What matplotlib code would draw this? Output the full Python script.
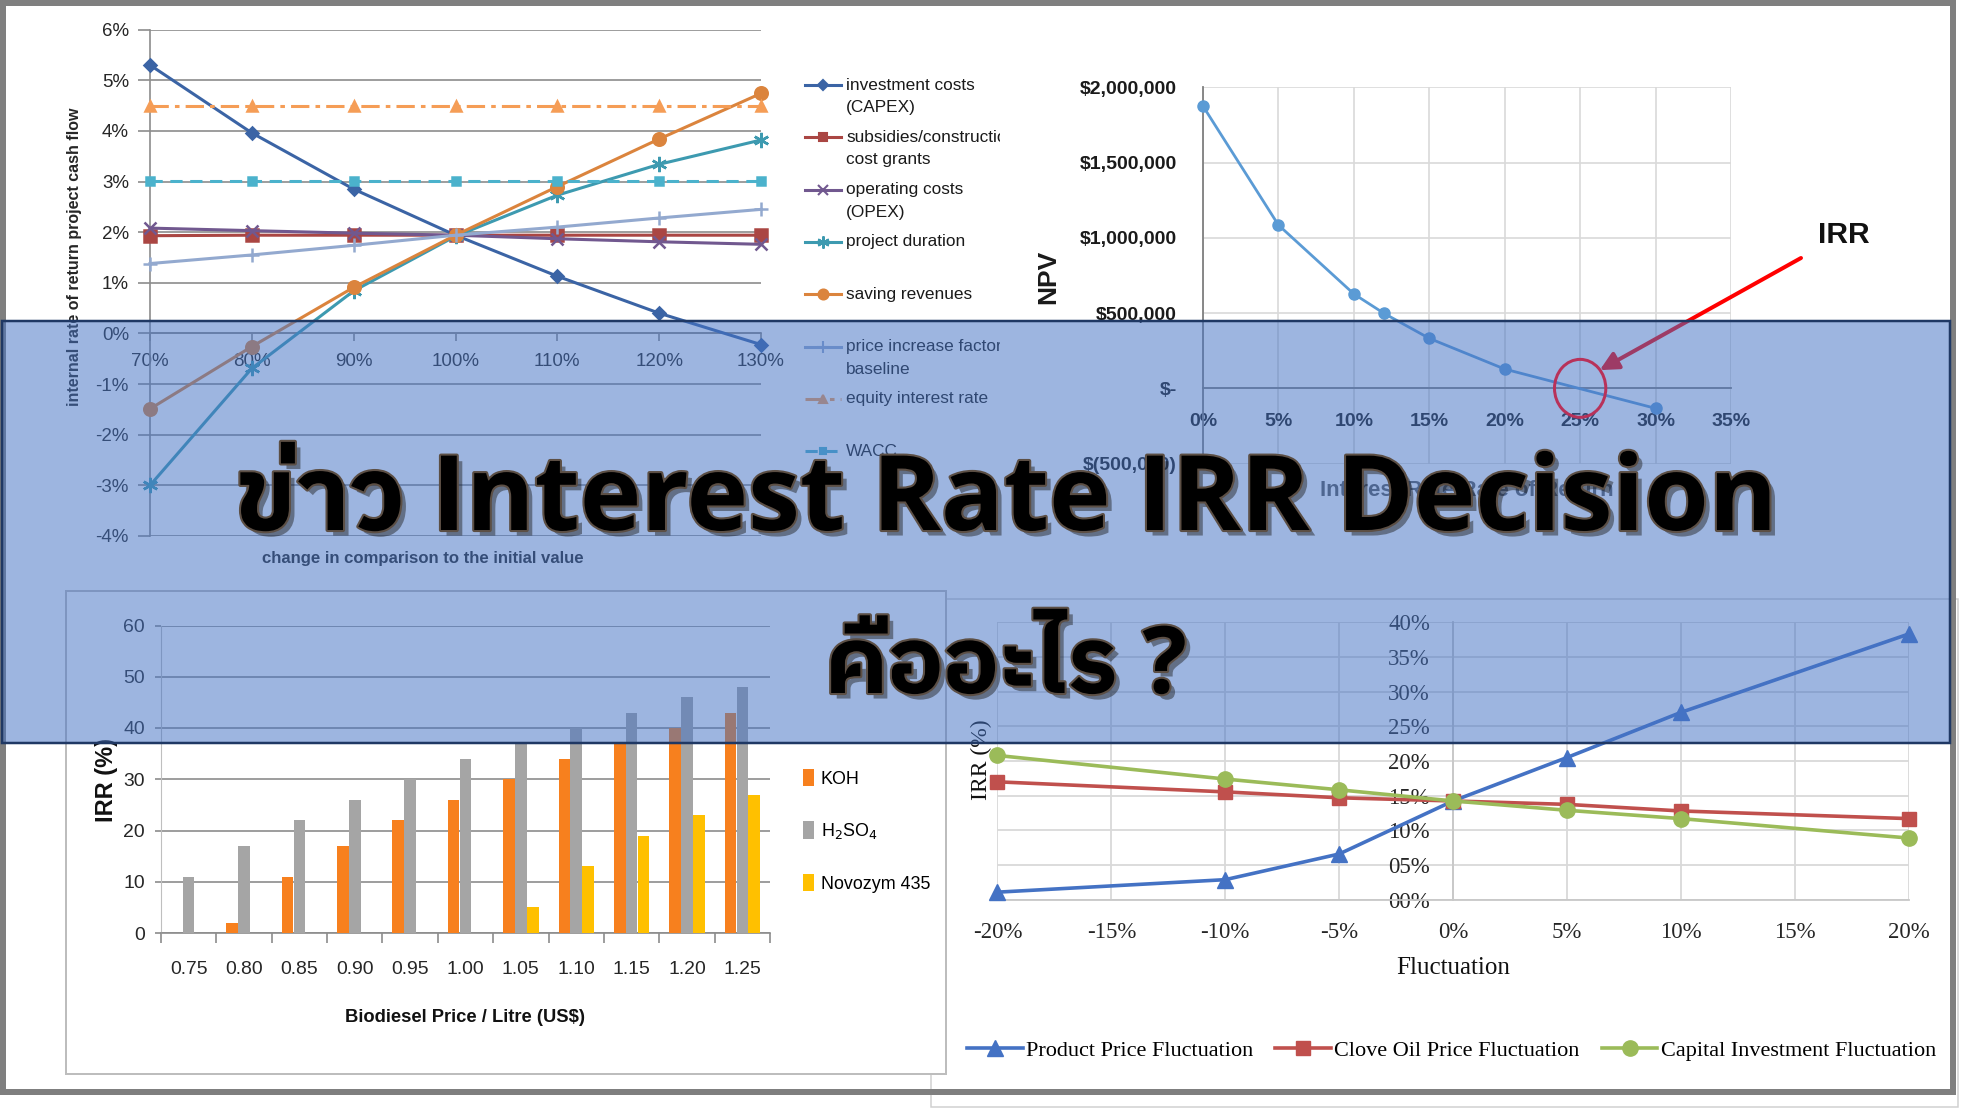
import numpy as np
import matplotlib
matplotlib.use('Agg')
import matplotlib.pyplot as plt
from matplotlib import font_manager, patheffects
from matplotlib.ft2font import FT2Font
from matplotlib.patches import Rectangle, Ellipse

# ---------------- data ----------------
# top left: IRR sensitivity (%)
change = [0.7, 0.8, 0.9, 1.0, 1.1, 1.2, 1.3]
change_labels = ['70%', '80%', '90%', '100%', '110%', '120%', '130%']
capex = [5.30, 3.96, 2.85, 1.94, 1.13, 0.40, -0.22]
subsidies = [1.93, 1.94, 1.94, 1.94, 1.94, 1.94, 1.94]
opex = [2.08, 2.03, 1.98, 1.94, 1.87, 1.81, 1.76]
duration = [-3.00, -0.69, 0.84, 1.92, 2.73, 3.34, 3.82]
revenues = [-1.49, -0.26, 0.91, 1.94, 2.90, 3.84, 4.74]
price_factor = [1.38, 1.55, 1.74, 1.94, 2.10, 2.28, 2.45]
equity_rate = [4.50, 4.50, 4.50, 4.50, 4.50, 4.50, 4.50]
wacc = [3.02, 3.02, 3.02, 3.02, 3.02, 3.02, 3.02]
irr_ticks = [-4, -3, -2, -1, 0, 1, 2, 3, 4, 5, 6]

# top right: NPV profile
rate = [0.00, 0.05, 0.10, 0.12, 0.15, 0.20, 0.30]
npv = [1875000, 1085000, 627000, 498000, 332000, 128000, -133000]
rate_ticks = [0.0, 0.05, 0.10, 0.15, 0.20, 0.25, 0.30, 0.35]
rate_labels = ['0%', '5%', '10%', '15%', '20%', '25%', '30%', '35%']
npv_ticks = [-500000, 0, 500000, 1000000, 1500000, 2000000]
irr_point = (0.25, 0)

# bottom left: IRR vs biodiesel price
price = ['0.75', '0.80', '0.85', '0.90', '0.95', '1.00', '1.05', '1.10', '1.15', '1.20', '1.25']
koh = [0, 2, 11, 17, 22, 26, 30, 34, 37, 40, 43]
h2so4 = [11, 17, 22, 26, 30, 34, 37, 40, 43, 46, 48]
novozym = [0, 0, 0, 0, 0, 0, 5, 13, 19, 23, 27]
bar_ticks = [0, 10, 20, 30, 40, 50, 60]

# bottom right: IRR vs fluctuation
fluct = [-0.20, -0.10, -0.05, 0.00, 0.05, 0.10, 0.20]
product = [0.011, 0.029, 0.066, 0.1424, 0.205, 0.270, 0.383]
clove = [0.170, 0.1555, 0.147, 0.1424, 0.1375, 0.128, 0.117]
capital = [0.208, 0.174, 0.1585, 0.1424, 0.129, 0.117, 0.089]
fluct_ticks = [-0.20, -0.15, -0.10, -0.05, 0.0, 0.05, 0.10, 0.15, 0.20]
fluct_labels = ['-20%', '-15%', '-10%', '-5%', '0%', '5%', '10%', '15%', '20%']
pct_ticks = [0.0, 0.05, 0.10, 0.15, 0.20, 0.25, 0.30, 0.35, 0.40]
pct_labels = ['00%', '05%', '10%', '15%', '20%', '25%', '30%', '35%', '40%']

# ---------------- fonts ----------------
names = {f.name for f in font_manager.fontManager.ttflist}
NARROW = 'Liberation Sans Narrow' in names


def narrow(size, **kw):
    if NARROW:
        return dict(family='Liberation Sans Narrow', size=size, **kw)
    return dict(family='Liberation Sans', size=size * 0.9, **kw)


def has_glyph(path, ch):
    try:
        return ord(ch) in FT2Font(path).get_charmap()
    except Exception:
        return False


thai = [f for f in font_manager.fontManager.ttflist if has_glyph(f.fname, 'ข')]
thai = sorted(thai, key=lambda f: 0 if 'Sans' in f.name else 1)
THAI = thai[0].name if thai else None
title_family = ['Open Sans'] + ([THAI] if THAI else []) + ['DejaVu Sans']

# ---------------- figure ----------------
W, H = 1962, 1109
PT = 0.72
fig = plt.figure(figsize=(W / 100, H / 100), dpi=100)
fig.patch.set_facecolor('white')


def px_axes(l, t, r, b):
    return fig.add_axes([l / W, 1 - b / H, (r - l) / W, (b - t) / H])


def fxy(x, y):
    return (x / W, 1 - y / H)


# panel boxes
fig.add_artist(Rectangle(fxy(931, 1107), 1027 / W, 508 / H, transform=fig.transFigure,
                         facecolor='white', edgecolor='#D0D0D0', lw=1.5 * PT, zorder=-2))
fig.add_artist(Rectangle(fxy(66, 1074), 880 / W, 483 / H, transform=fig.transFigure,
                         facecolor='white', edgecolor='#BDBDBD', lw=2 * PT, zorder=-1))

# ---------- top left ----------
ax1 = px_axes(150, 29.6, 761, 536)
ax1.set_facecolor('none')
for s in ['top', 'right']:
    ax1.spines[s].set_visible(False)
ax1.spines['bottom'].set_position(('data', 0))
series1 = [
    ('investment costs\n(CAPEX)', capex, '#3B64A5', 'D', 6, '-'),
    ('subsidies/construction\ncost grants', subsidies, '#AA4643', 's', 8, '-'),
    ('operating costs\n(OPEX)', opex, '#71588F', 'x', 9, '-'),
    ('project duration', duration, '#3D9AB0', (6, 2, 0), 11, '-'),
    ('saving revenues', revenues, '#DB843D', 'o', 9, '-'),
    ('price increase factor\nbaseline', price_factor, '#93A9CF', '+', 10, '-'),
    ('equity interest rate', equity_rate, '#F59D56', '^', 7, (0, (6, 2, 1.5, 2))),
    ('WACC', wacc, '#4BB2CC', 's', 6, (0, (4, 2.5))),
]
for lab, vals, col, mk, ms, ls in series1:
    ax1.plot(change, vals, color=col, marker=mk, ms=ms, lw=2.2, ls=ls, mew=1.8,
             clip_on=False, zorder=3)
ax1.set_xlim(0.7, 1.3)
ax1.set_ylim(-4, 6)
ax1.set_yticks(irr_ticks, [f'{v}%' for v in irr_ticks], family='Liberation Sans',
               fontsize=13.5, color='#262626')
ax1.set_xticks(change, change_labels, family='Liberation Sans', fontsize=13.5, color='#262626')
ax1.grid(axis='y', color='#8C8C8C', lw=1.2)
ax1.set_axisbelow(True)
for s in ['bottom', 'left']:
    ax1.spines[s].set_color('#8C8C8C')
    ax1.spines[s].set_linewidth(1.2)
ax1.tick_params(axis='y', length=12 * PT, width=1.2, color='#8C8C8C', pad=9 * PT)
ax1.tick_params(axis='x', length=8 * PT, width=1.2, color='#8C8C8C', pad=12 * PT)
fig.text(*fxy(75, 257), 'internal rate of return project cash flow', rotation=90,
         ha='center', va='center', family='Liberation Sans', fontsize=11.5,
         fontweight='bold', color='#262626')
fig.text(*fxy(423, 558), 'change in comparison to the initial value', ha='center', va='center',
         color='#262626', **narrow(13.4, weight='bold'))

# legend of top left chart
lax = px_axes(800, 60, 1000, 480)
lax.set_xlim(800, 1000)
lax.set_ylim(480, 60)
lax.axis('off')
for i, (lab, vals, col, mk, ms, ls) in enumerate(series1):
    y = 85 + i * 52.3
    lax.plot([805, 841], [y, y], color=col, lw=2.2, ls=ls)
    lax.plot([823], [y], color=col, marker=mk, ms=ms * 0.8, mew=1.5)
    for j, line in enumerate(lab.split('\n')):
        lax.text(846, y + j * 22.5, line, va='center', ha='left', color='#1a1a1a',
                 clip_on=True, family='Liberation Sans', size=12.4)

# ---------- top right ----------
ax2 = px_axes(1203, 87.3, 1731, 463.6)
ax2.set_facecolor('none')
for s in ['top', 'right']:
    ax2.spines[s].set_visible(False)
ax2.spines['bottom'].set_position(('data', 0))
ax2.plot(rate, npv, color='#5B9BD5', lw=2, marker='o', ms=8, clip_on=False, zorder=3)
ax2.set_xlim(0, 0.35)
ax2.set_ylim(-500000, 2000000)


def money(v):
    if v == 0:
        return '$-'
    if v < 0:
        return '$({:,.0f})'.format(-v)
    return '${:,.0f}'.format(v)


ax2.set_xticks(rate_ticks, rate_labels, family='Liberation Sans', fontsize=14,
               fontweight='bold', color='#1a1a1a')
ax2.set_yticks(npv_ticks, [money(v) for v in npv_ticks], family='Liberation Sans',
               fontsize=14, fontweight='bold', color='#1a1a1a')
ax2.grid(True, color='#D9D9D9', lw=1.2)
ax2.set_axisbelow(True)
for s in ['bottom', 'left']:
    ax2.spines[s].set_color('#7F7F7F')
    ax2.spines[s].set_linewidth(1.3)
ax2.tick_params(axis='x', length=0, pad=25 * PT)
ax2.tick_params(axis='y', length=0, pad=26 * PT)
fig.text(*fxy(1048, 277), 'NPV', rotation=90, ha='center', va='center',
         family='Liberation Sans', fontsize=19, fontweight='bold', color='#1a1a1a')
fig.text(*fxy(1467, 490), 'Interest Rate/Rate of Return', ha='center', va='center',
         family='Liberation Sans', fontsize=16, fontweight='bold', color='#595959')
ax2.annotate('', xy=(0.263, 121000), xytext=fxy(1801, 258), textcoords='figure fraction',
             arrowprops=dict(arrowstyle='-|>,head_length=1.1,head_width=0.55', color='red',
                             lw=4 * PT, shrinkA=0, shrinkB=0), zorder=4)
fig.text(*fxy(1844, 235), 'IRR', ha='center', va='center', color='#111111',
         **narrow(24, weight='bold'))

# ---------- bottom left ----------
ax3 = px_axes(161, 625.5, 770, 933)
ax3.set_facecolor('none')
x = np.arange(len(price))
b1 = ax3.bar(x - 0.215, koh, 0.21, color='#F7801E', zorder=3)
b2 = ax3.bar(x, h2so4, 0.21, color='#A5A5A5', zorder=3)
b3 = ax3.bar(x + 0.215, novozym, 0.21, color='#FFC000', zorder=3)
ax3.set_xlim(-0.5, len(price) - 0.5)
ax3.set_ylim(0, 60)
tick_font = narrow(15.5)
ax3.set_xticks(x, price, color='#262626', fontfamily=tick_font['family'],
               fontsize=tick_font['size'])
ax3.set_xticks(np.arange(len(price) + 1) - 0.5, minor=True)
ax3.set_yticks(bar_ticks, [str(v) for v in bar_ticks], color='#262626',
               fontfamily=tick_font['family'], fontsize=tick_font['size'])
ax3.grid(axis='y', color='#8C8C8C', lw=1.2)
ax3.set_axisbelow(True)
for s in ['top', 'right']:
    ax3.spines[s].set_visible(False)
ax3.spines['bottom'].set_color('#8C8C8C')
ax3.spines['bottom'].set_linewidth(1.2)
ax3.spines['left'].set_color('#BFBFBF')
ax3.tick_params(axis='x', which='major', length=0, pad=28 * PT)
ax3.tick_params(axis='x', which='minor', length=10 * PT, width=1.2, color='#8C8C8C')
ax3.tick_params(axis='y', length=6 * PT, width=1.2, color='#8C8C8C', pad=10 * PT)
fig.text(*fxy(465, 1018), r'Biodiesel Price / Litre (US\$)', ha='center', va='center',
         color='#111111', **narrow(14.7, weight='bold'))
fig.text(*fxy(107, 780), 'IRR (%)', rotation=90, ha='center', va='center',
         family='Liberation Sans', fontsize=17, fontweight='bold', color='#111111')
ax3.legend([b1, b2, b3], ['KOH', r'H$_2$SO$_4$', 'Novozym 435'], loc='center left',
           bbox_to_anchor=fxy(803, 831), bbox_transform=fig.transFigure,
           frameon=False, prop=dict(narrow(14.3)), handlelength=0.6, handleheight=1.1,
           handletextpad=0.4, labelspacing=1.85, borderpad=0, borderaxespad=0)

# ---------- bottom right ----------
ax4 = px_axes(997.4, 622.2, 1908.7, 899.8)
ax4.set_facecolor('none')
for s in ['top', 'right']:
    ax4.spines[s].set_visible(False)
ax4.spines['left'].set_position(('data', 0))
l1, = ax4.plot(fluct, product, color='#4472C4', marker='^', ms=11, lw=2.6, clip_on=False, zorder=3)
l2, = ax4.plot(fluct, clove, color='#C0504D', marker='s', ms=10, lw=2.6, clip_on=False, zorder=3)
l3, = ax4.plot(fluct, capital, color='#9BBB59', marker='o', ms=11, lw=2.6, clip_on=False, zorder=3)
ax4.set_xlim(-0.2, 0.2)
ax4.set_ylim(0, 0.4)
ax4.set_xticks(fluct_ticks, fluct_labels, family='Liberation Serif', fontsize=16.5, color='#262626')
ax4.set_yticks(pct_ticks, pct_labels, family='Liberation Serif', fontsize=16.5, color='#262626')
ax4.grid(True, color='#D9D9D9', lw=1.3)
ax4.set_axisbelow(True)
for s in ['bottom', 'left']:
    ax4.spines[s].set_color('#C8C8C8')
    ax4.spines[s].set_linewidth(1.3)
ax4.tick_params(axis='x', length=0, pad=22 * PT)
ax4.tick_params(axis='y', length=0, pad=23 * PT)
fig.text(*fxy(1453, 968), 'Fluctuation', ha='center', va='center', family='Liberation Serif',
         fontsize=18, color='#111111')
fig.text(*fxy(981, 760), 'IRR (%)', rotation=90, ha='center', va='center',
         family='Liberation Serif', fontsize=17, color='#111111')
fig.legend([l1, l2, l3], ['Product Price Fluctuation', 'Clove Oil Price Fluctuation',
                          'Capital Investment Fluctuation'],
           loc='center', bbox_to_anchor=fxy(1451.5, 1050.6), ncol=3, frameon=False,
           prop=dict(family='Liberation Serif', size=16), handlelength=2.5,
           columnspacing=1.0, handletextpad=0.15, borderpad=0, borderaxespad=0)

# ---------- frame, banner, title ----------
fig.add_artist(Rectangle(fxy(3, 1092), 1950 / W, 1089 / H, transform=fig.transFigure,
                         fill=False, edgecolor='#7F7F7F', lw=6 * PT, zorder=4))
fig.add_artist(Rectangle(fxy(2, 743), 1948 / W, 422 / H, transform=fig.transFigure,
                         facecolor=(0x44 / 255, 0x72 / 255, 0xC4 / 255, 0.52),
                         edgecolor='#1F3864', lw=2.5 * PT, zorder=5))
# IRR circle sits over the banner
fig.add_artist(Ellipse(irr_point, 0.034, 385000, transform=ax2.transData, fill=False,
                       ec='#B8325A', lw=3 * PT, zorder=5.5))
title_fx = [patheffects.SimplePatchShadow(offset=(4, -4), shadow_rgbFace='#1a1a1a', alpha=0.45),
            patheffects.Stroke(linewidth=3, foreground='#5c4f45'),
            patheffects.Normal()]
for txt, yb, fs in [('ข่าว Interest Rate IRR Decision', 530, 75), ('คืออะไร ?', 693, 67)]:
    fig.text(*fxy(1006, yb), txt, ha='center', va='baseline', family=title_family,
             fontsize=fs, fontweight='bold', color='black', path_effects=title_fx, zorder=6)

fig.savefig('out.png', dpi=100)
